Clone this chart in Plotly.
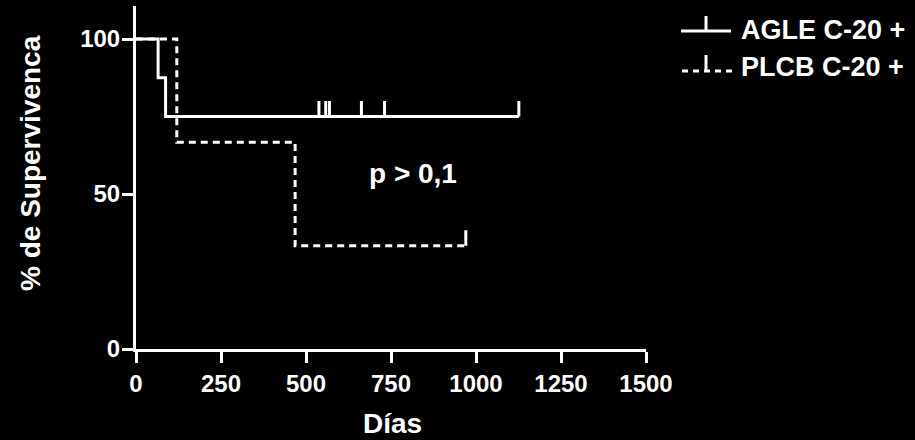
import plotly.graph_objects as go

# Kaplan-Meier step data (days, % survival)
agle_times = [0, 65, 87, 1126]
agle_surv = [100, 87.5, 75, 75]
agle_censored = [538, 558, 569, 663, 731, 1126]

plcb_times = [0, 120, 468, 970]
plcb_surv = [100, 66.7, 33.3, 33.3]
plcb_censored = [970]

x_ticks = [0, 250, 500, 750, 1000, 1250, 1500]
y_ticks = [0, 50, 100]

FONT = "Liberation Sans, Arial, sans-serif"
WHITE = "white"
LW = 3
DASH = "7px,5px"
CENSOR_H = 5  # height of censor ticks in survival units

# figure geometry (pixels)
W, H = 915, 440
ML, MR, MT, MB = 136, 269, 6, 91
PW, PH = W - ML - MR, H - MT - MB


def surv_at(t, times, surv):
    s = surv[0]
    for ti, si in zip(times, surv):
        if ti <= t:
            s = si
    return s


def censor_segments(cens, times, surv):
    xs, ys = [], []
    for t in cens:
        s = surv_at(t, times, surv)
        xs += [t, t, None]
        ys += [s, s + CENSOR_H, None]
    return xs, ys


fig = go.Figure()

# dashed series first so the solid curve sits on top where they overlap
fig.add_trace(go.Scatter(x=plcb_times, y=plcb_surv, mode="lines", line_shape="hv",
                         line=dict(color=WHITE, width=LW, dash=DASH), name="PLCB C-20 +",
                         showlegend=False))
cx, cy = censor_segments(plcb_censored, plcb_times, plcb_surv)
fig.add_trace(go.Scatter(x=cx, y=cy, mode="lines", line=dict(color=WHITE, width=LW),
                         showlegend=False, hoverinfo="skip"))

fig.add_trace(go.Scatter(x=agle_times, y=agle_surv, mode="lines", line_shape="hv",
                         line=dict(color=WHITE, width=LW), name="AGLE C-20 +",
                         showlegend=False))
cx, cy = censor_segments(agle_censored, agle_times, agle_surv)
fig.add_trace(go.Scatter(x=cx, y=cy, mode="lines", line=dict(color=WHITE, width=LW),
                         showlegend=False, hoverinfo="skip"))


def px_x(p):
    return (p - ML) / PW


def px_y(p):
    return (H - MB - p) / PH


# legend drawn by hand: line with an upward censor tick in the middle
shapes = [
    dict(type="line", xref="paper", yref="paper", x0=px_x(681), x1=px_x(731),
         y0=px_y(31), y1=px_y(31), line=dict(color=WHITE, width=LW)),
    dict(type="line", xref="paper", yref="paper", x0=px_x(706), x1=px_x(706),
         y0=px_y(31), y1=px_y(16), line=dict(color=WHITE, width=LW)),
    dict(type="line", xref="paper", yref="paper", x0=px_x(682), x1=px_x(732),
         y0=px_y(71), y1=px_y(71), line=dict(color=WHITE, width=LW, dash="6px,5px")),
    dict(type="line", xref="paper", yref="paper", x0=px_x(706), x1=px_x(706),
         y0=px_y(71), y1=px_y(55), line=dict(color=WHITE, width=LW)),
]

annotations = [
    dict(text="AGLE C-20 +", xref="paper", yref="paper", x=px_x(739), y=px_y(30),
         xanchor="left", yanchor="middle", showarrow=False,
         font=dict(family=FONT, size=27, color=WHITE, weight="bold")),
    dict(text="PLCB C-20 +", xref="paper", yref="paper", x=px_x(739), y=px_y(67),
         xanchor="left", yanchor="middle", showarrow=False,
         font=dict(family=FONT, size=27, color=WHITE, weight="bold")),
    dict(text="p > 0,1", xref="x", yref="y", x=815, y=56.5,
         xanchor="center", yanchor="middle", showarrow=False,
         font=dict(family=FONT, size=28, color=WHITE, weight="bold")),
    dict(text="% de Supervivenca", xref="paper", yref="paper", x=px_x(30), y=px_y(163),
         xanchor="center", yanchor="middle", textangle=-90, showarrow=False,
         font=dict(family=FONT, size=28, color=WHITE, weight="bold")),
    dict(text="Días", xref="paper", yref="paper", x=px_x(392), y=px_y(423),
         xanchor="center", yanchor="middle", showarrow=False,
         font=dict(family=FONT, size=28, color=WHITE, weight="bold")),
]

fig.update_layout(
    width=W, height=H,
    margin=dict(l=ML, r=MR, t=MT, b=MB, pad=0),
    paper_bgcolor="black", plot_bgcolor="black",
    shapes=shapes, annotations=annotations,
    showlegend=False,
)
fig.update_xaxes(range=[0, 1500], tickvals=x_ticks, ticktext=[str(v) for v in x_ticks],
                 showgrid=False, zeroline=False, showline=True, linecolor=WHITE, linewidth=LW,
                 ticks="outside", ticklen=11, tickwidth=LW, tickcolor=WHITE,
                 tickfont=dict(family=FONT, size=24, color=WHITE, weight="bold"))
fig.update_yaxes(range=[0, PH / 3.1], tickvals=y_ticks, ticktext=[str(v) for v in y_ticks],
                 showgrid=False, zeroline=False, showline=True, linecolor=WHITE, linewidth=LW,
                 ticks="outside", ticklen=11, tickwidth=LW, tickcolor=WHITE,
                 ticklabelstandoff=-3,
                 tickfont=dict(family=FONT, size=24, color=WHITE, weight="bold"))

fig.write_html("out.html")
